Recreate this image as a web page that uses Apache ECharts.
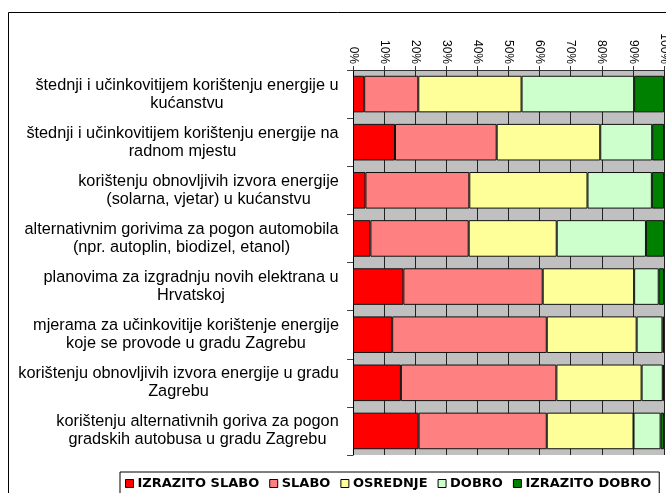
<!DOCTYPE html>
<html>
<head>
<meta charset="utf-8">
<script src="https://cdn.jsdelivr.net/npm/echarts@6/dist/echarts.min.js"></script>
<style>
html, body { margin: 0; padding: 0; background: #fff; }
#chart { width: 666px; height: 493px; }
</style>
</head>
<body>
<div id="chart"></div>
<script>
// categories (two lines each, as in the original)
var categories = [
    'štednji i učinkovitijem korištenju energije u\nkućanstvu',
    'štednji i učinkovitijem korištenju energije na\nradnom mjestu',
    'korištenju obnovljivih izvora energije\n(solarna, vjetar) u kućanstvu',
    'alternativnim gorivima za pogon automobila\n(npr. autoplin, biodizel, etanol)',
    'planovima za izgradnju novih elektrana u\nHrvatskoj',
    'mjerama za učinkovitije korištenje energije\nkoje se provode u gradu Zagrebu',
    'korištenju obnovljivih izvora energije u gradu\nZagrebu',
    'korištenju alternativnih goriva za pogon\ngradskih autobusa u gradu Zagrebu'
];

var seriesNames = ['IZRAZITO SLABO', 'SLABO', 'OSREDNJE', 'DOBRO', 'IZRAZITO DOBRO'];

// percentages
var izrazitoSlabo = [3.6, 13.5, 4.0, 5.6, 16.2, 12.6, 15.4, 21.1];
var slabo         = [17.4, 32.7, 33.4, 31.6, 44.8, 49.7, 50.0, 41.2];
var osrednje      = [33.2, 33.3, 38.0, 28.3, 29.4, 28.9, 27.4, 27.9];
var dobro         = [36.2, 16.7, 20.7, 28.7, 7.9, 8.3, 6.8, 8.7];
var izrazitoDobro = [9.6, 3.8, 3.9, 5.8, 1.7, 0.5, 0.4, 1.1];

var colors = ['#ff0000', '#ff8080', '#ffff99', '#ccffcc', '#008000'];

var labelFont = '16.3px "Liberation Sans", Arial, sans-serif';

// measure each label so its lines can be centred on each other
var cv = document.createElement('canvas').getContext('2d');
cv.font = labelFont;
var rich = {};
categories.forEach(function (c, i) {
    var w = 0;
    c.split('\n').forEach(function (l) {
        w = Math.max(w, cv.measureText(l).width);
    });
    rich['c' + i] = {
        width: Math.ceil(w),
        align: 'center',
        fontSize: 16.3,
        lineHeight: 18,
        fontFamily: '"Liberation Sans", Arial, sans-serif',
        color: '#000'
    };
});

var chart = echarts.init(document.getElementById('chart'));

var allData = [izrazitoSlabo, slabo, osrednje, dobro, izrazitoDobro];

option = {
    animation: false,
    backgroundColor: '#fff',
    color: colors,
    graphic: [{
        type: 'rect',
        shape: { x: 8.5, y: 12.5, width: 700, height: 600 },
        style: { fill: 'none', stroke: '#000', lineWidth: 1 },
        silent: true,
        z: -1
    }],
    legend: {
        data: seriesNames,
        left: 120,
        top: 472,
        width: 620,
        orient: 'horizontal',
        icon: 'rect',
        itemWidth: 8,
        itemHeight: 8,
        itemGap: 10,
        padding: [5, 8, 20, 5],
        borderColor: '#000',
        borderWidth: 1,
        itemStyle: { borderColor: '#000', borderWidth: 1 },
        textStyle: {
            fontFamily: '"DejaVu Sans", Verdana, sans-serif',
            fontWeight: 'bold',
            fontSize: 13,
            color: '#000',
            padding: [0, 0, 0, -1]
        }
    },
    grid: {
        left: 353,
        right: 2,
        top: 70,
        bottom: 38,
        outerBoundsMode: 'none',
        containLabel: false,
        show: true,
        backgroundColor: '#c0c0c0',
        borderWidth: 0
    },
    xAxis: {
        type: 'value',
        position: 'top',
        min: 0,
        max: 100,
        interval: 10,
        axisLine: { show: true, lineStyle: { color: '#333', width: 1 } },
        axisTick: { show: true, length: 4, lineStyle: { color: '#333' } },
        axisLabel: {
            rotate: 90,
            margin: 6,
            fontSize: 12,
            fontFamily: '"Liberation Sans", Arial, sans-serif',
            color: '#000',
            formatter: '{value}%'
        },
        splitLine: { show: true, lineStyle: { color: '#222', width: 1 } }
    },
    yAxis: {
        type: 'category',
        inverse: true,
        data: categories,
        axisLine: { show: true, lineStyle: { color: '#000', width: 1 } },
        axisTick: { show: true, length: 6, lineStyle: { color: '#444' } },
        axisLabel: {
            margin: 14,
            align: 'right',
            formatter: function (value, index) {
                return value.split('\n').map(function (l) {
                    return '{c' + index + '|' + l + '}';
                }).join('\n');
            },
            rich: rich
        }
    },
    series: seriesNames.map(function (name, k) {
        return {
            name: name,
            type: 'bar',
            stack: 'total',
            barWidth: '76%',
            itemStyle: { borderColor: '#111', borderWidth: 1 },
            data: allData[k]
        };
    })
};

chart.setOption(option);

window.addEventListener('resize', function () {
    if (chart != null && chart != undefined) {
        chart.resize();
    }
});
</script>
</body>
</html>
